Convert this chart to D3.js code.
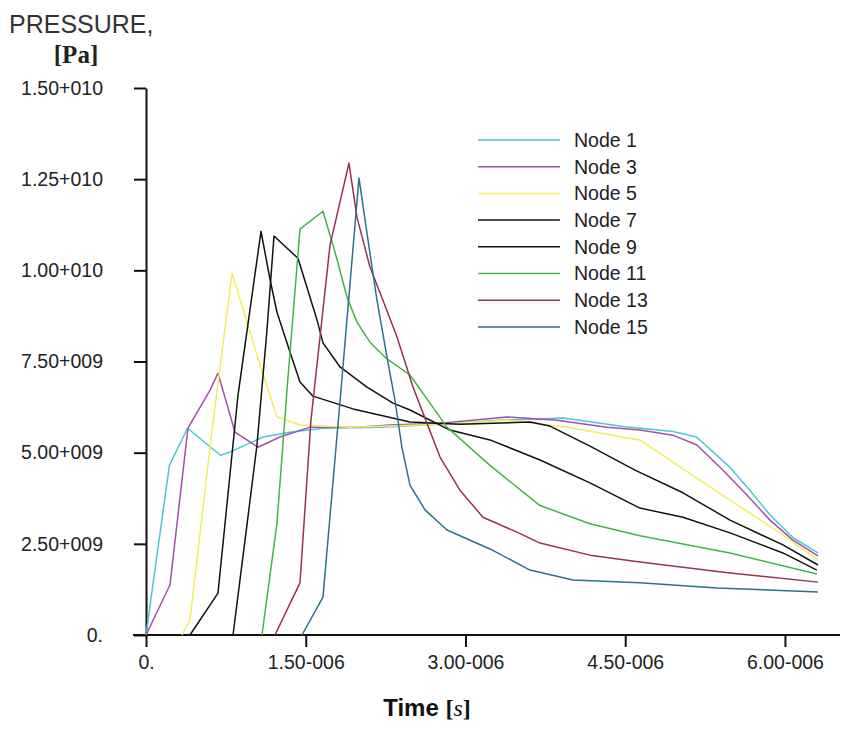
<!DOCTYPE html>
<html>
<head>
<meta charset="utf-8">
<script src="https://cdn.jsdelivr.net/npm/d3@7"></script>
<style>
  html, body { margin: 0; padding: 0; background: #fff; }
  svg { display: block; }
</style>
</head>
<body>
<svg id="chart" width="850" height="740"></svg>
<script>
// ---- DATA (time in microseconds, pressure in 1e9 Pa) ----
const seriesNames = ["Node 1", "Node 3", "Node 5", "Node 7", "Node 9", "Node 11", "Node 13", "Node 15"];

const node1Time = [0, 0.22, 0.39, 0.70, 0.79, 1.10, 1.35, 1.66, 2.20, 2.76, 3.32, 3.92, 4.48, 4.95, 5.17, 5.48, 5.67, 5.86, 6.08, 6.31];
const node1Pres = [0, 4.66, 5.67, 4.93, 5.02, 5.43, 5.56, 5.67, 5.70, 5.78, 5.89, 5.95, 5.72, 5.58, 5.43, 4.61, 3.97, 3.29, 2.66, 2.25];

const node3Time = [0, 0.225, 0.394, 0.60, 0.676, 0.836, 1.052, 1.258, 1.540, 1.981, 2.291, 2.761, 3.390, 3.859, 4.329, 4.638, 4.948, 5.174, 5.418, 5.643, 5.859, 6.075, 6.31];
const node3Pres = [0, 1.37, 5.67, 6.71, 7.18, 5.56, 5.15, 5.43, 5.70, 5.70, 5.76, 5.81, 5.98, 5.89, 5.70, 5.62, 5.48, 5.21, 4.52, 3.84, 3.15, 2.60, 2.17];

const node5Time = [0.338, 0.413, 0.620, 0.808, 1.042, 1.230, 1.446, 1.915, 2.761, 3.390, 3.953, 4.638, 5.014, 5.484, 5.953, 6.31];
const node5Pres = [0, 0.41, 5.62, 9.92, 7.68, 5.98, 5.76, 5.70, 5.78, 5.89, 5.70, 5.35, 4.61, 3.70, 2.80, 2.06];

const node7Time = [0.413, 0.676, 0.864, 1.080, 1.164, 1.230, 1.352, 1.446, 1.568, 1.944, 2.479, 2.948, 3.606, 3.793, 4.169, 4.592, 5.042, 5.484, 5.981, 6.31];
const node7Pres = [0, 1.15, 6.58, 11.07, 9.76, 8.85, 7.76, 6.94, 6.55, 6.20, 5.84, 5.78, 5.84, 5.73, 5.18, 4.52, 3.90, 3.15, 2.47, 1.92];

const node9Time = [0.817, 0.930, 1.042, 1.136, 1.202, 1.427, 1.606, 1.662, 1.822, 2.075, 2.320, 2.479, 2.854, 3.230, 3.700, 4.169, 4.638, 5.042, 5.484, 5.981, 6.30];
const node9Pres = [0, 2.60, 5.21, 8.36, 10.94, 10.33, 8.64, 8.01, 7.35, 6.80, 6.36, 6.17, 5.62, 5.35, 4.80, 4.17, 3.48, 3.23, 2.80, 2.25, 1.78];

const node11Time = [1.089, 1.230, 1.324, 1.446, 1.662, 1.793, 1.887, 1.981, 2.103, 2.263, 2.479, 2.826, 3.230, 3.700, 4.169, 4.638, 5.484, 6.30];
const node11Pres = [0, 3.07, 6.72, 11.13, 11.62, 10.31, 9.27, 8.58, 8.03, 7.57, 7.13, 5.70, 4.65, 3.55, 3.05, 2.72, 2.25, 1.67];

const node13Time = [1.211, 1.446, 1.549, 1.728, 1.906, 1.981, 2.103, 2.225, 2.357, 2.507, 2.638, 2.761, 2.948, 3.164, 3.484, 3.700, 4.169, 4.638, 5.484, 6.31];
const node13Pres = [0, 1.43, 5.89, 10.69, 12.94, 11.46, 10.09, 9.18, 8.17, 6.80, 5.81, 4.88, 3.97, 3.23, 2.82, 2.52, 2.19, 2.00, 1.70, 1.45];

const node15Time = [1.465, 1.662, 1.831, 2.000, 2.075, 2.169, 2.263, 2.338, 2.404, 2.479, 2.620, 2.826, 3.230, 3.606, 4.009, 4.638, 5.362, 6.310];
const node15Pres = [0, 1.04, 6.72, 12.53, 11.02, 9.18, 7.62, 6.44, 5.13, 4.11, 3.43, 2.88, 2.36, 1.78, 1.51, 1.43, 1.29, 1.18];

const xTickValues = [0, 1.5e-6, 3.0e-6, 4.5e-6, 6.0e-6];
const yTickValues = [0, 2.5e9, 5.0e9, 7.5e9, 1.0e10, 1.25e10, 1.5e10];

// ---- STYLE ----
const seriesColors = ["#4cc6d6", "#a24fae", "#f2ee5c", "#111111", "#111111", "#44b447", "#963252", "#2c6f8c"];

const timesAll = [node1Time, node3Time, node5Time, node7Time, node9Time, node11Time, node13Time, node15Time];
const presAll = [node1Pres, node3Pres, node5Pres, node7Pres, node9Pres, node11Pres, node13Pres, node15Pres];

const series = seriesNames.map((name, i) => ({
  name,
  color: seriesColors[i],
  points: timesAll[i].map((t, j) => ({ t: t * 1e-6, p: presAll[i][j] * 1e9 }))
}));

const svg = d3.select("#chart");
const font = "'Liberation Sans', Arial, sans-serif";

const x = d3.scaleLinear().domain([0, 6.517e-6]).range([146, 840]);
const y = d3.scaleLinear().domain([0, 1.5e10]).range([635, 88]);

function fmt(v) {
  if (v === 0) return "0.";
  const e = Math.floor(Math.log10(Math.abs(v)) + 1e-9);
  const m = v / Math.pow(10, e);
  const sign = e < 0 ? "-" : "+";
  return m.toFixed(2) + sign + String(Math.abs(e)).padStart(3, "0");
}

// Y axis
const yAxis = d3.axisLeft(y).tickValues(yTickValues).tickFormat(fmt).tickSize(12).tickSizeOuter(0).tickPadding(31);
const gy = svg.append("g").attr("transform", "translate(146,0)").call(yAxis);
gy.select(".domain").attr("stroke", "#111").attr("stroke-width", 2);
gy.selectAll(".tick line").attr("stroke", "#111").attr("stroke-width", 2);
gy.selectAll(".tick text").attr("font-family", font).attr("font-size", 19.5).attr("fill", "#222");

// X axis
const xAxis = d3.axisBottom(x).tickValues(xTickValues).tickFormat(fmt).tickSize(12).tickSizeOuter(0).tickPadding(8);
const gx = svg.append("g").attr("transform", "translate(0,635)").call(xAxis);
gx.select(".domain").remove();
gx.append("line").attr("x1", x.range()[0] - 13).attr("x2", x.range()[1]).attr("y1", 0).attr("y2", 0)
  .attr("stroke", "#111").attr("stroke-width", 2);
gx.selectAll(".tick line").attr("stroke", "#111").attr("stroke-width", 2);
gx.selectAll(".tick text").attr("font-family", font).attr("font-size", 19.5).attr("fill", "#222");

// Lines
const line = d3.line().x(d => x(d.t)).y(d => y(d.p));
svg.append("g").selectAll("path").data(series).join("path")
  .attr("d", d => line(d.points))
  .attr("fill", "none")
  .attr("stroke", d => d.color)
  .attr("stroke-width", 1.5)
  .attr("stroke-linejoin", "round");

// Legend
const lg = svg.append("g");
series.forEach((s, i) => {
  const yy = 140 + i * 26.7;
  lg.append("line").attr("x1", 478).attr("x2", 560).attr("y1", yy).attr("y2", yy)
    .attr("stroke", s.color).attr("stroke-width", 1.5);
  lg.append("text").attr("x", 574).attr("y", yy).attr("dy", "0.35em")
    .attr("font-family", font).attr("font-size", 19.5).attr("fill", "#222").text(s.name);
});

// Titles
svg.append("text").attr("x", 9).attr("y", 33).attr("font-family", font).attr("font-size", 25)
  .attr("fill", "#333").text("PRESSURE,");
svg.append("text").attr("x", 76).attr("y", 63).attr("text-anchor", "middle")
  .attr("font-family", "'Liberation Serif', 'Times New Roman', serif").attr("font-weight", "bold")
  .attr("font-size", 25).attr("fill", "#222").text("[Pa]");

const xt = svg.append("text").attr("x", 427).attr("y", 716).attr("text-anchor", "middle")
  .attr("font-size", 24).attr("fill", "#111");
xt.append("tspan").attr("font-family", font).attr("font-weight", "bold").text("Time ");
xt.append("tspan").attr("font-family", "'Liberation Serif', 'Times New Roman', serif").attr("font-weight", "bold").text("[");
xt.append("tspan").attr("font-family", "'Liberation Serif', 'Times New Roman', serif").attr("font-style", "italic").text("s");
xt.append("tspan").attr("font-family", "'Liberation Serif', 'Times New Roman', serif").attr("font-weight", "bold").text("]");
</script>
</body>
</html>
